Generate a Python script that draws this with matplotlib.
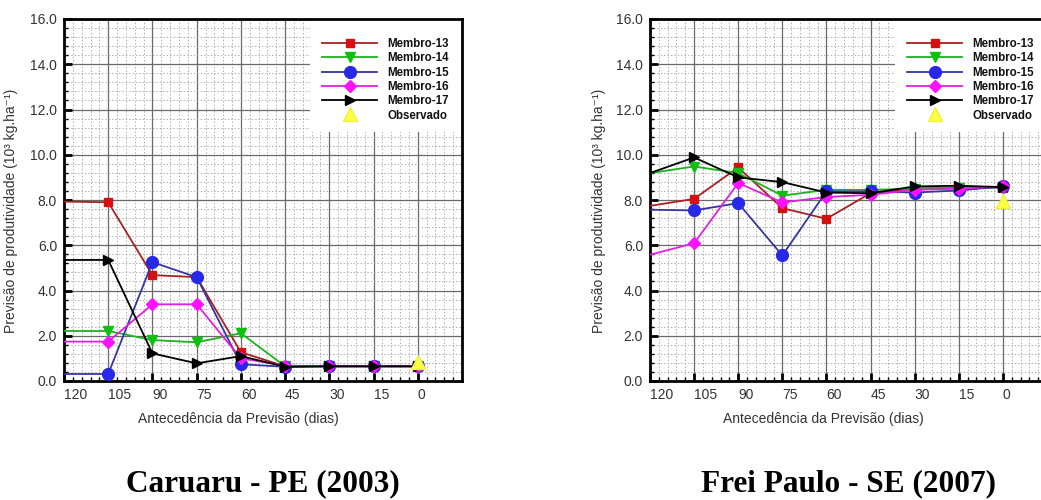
import matplotlib
matplotlib.use("Agg")
import matplotlib.pyplot as plt
from matplotlib.ticker import MultipleLocator, FormatStrFormatter
from matplotlib.patches import Rectangle

plt.rcParams['font.family'] = ['Liberation Sans', 'DejaVu Sans']

dias = [120, 105, 90, 75, 60, 45, 30, 15, 0]
x_ticks = [120, 105, 90, 75, 60, 45, 30, 15, 0]
series_names = ["Membro-13", "Membro-14", "Membro-15", "Membro-16", "Membro-17"]

# Caruaru - PE (2003)
car_m13 = [7.93, 7.90, 4.68, 4.59, 1.27, 0.65, 0.65, 0.65, 0.65]
car_m14 = [2.21, 2.21, 1.81, 1.71, 2.11, 0.65, 0.65, 0.65, 0.65]
car_m15 = [0.31, 0.31, 5.25, 4.59, 0.74, 0.63, 0.65, 0.65, 0.65]
car_m16 = [1.74, 1.74, 3.39, 3.39, 1.00, 0.68, 0.65, 0.65, 0.65]
car_m17 = [5.35, 5.35, 1.22, 0.78, 1.10, 0.63, 0.65, 0.65, 0.65]
car_obs_x = [0]
car_obs = [0.86]

# Frei Paulo - SE (2007)
fp_m13 = [7.74, 8.05, 9.44, 7.64, 7.17, 8.30, 8.50, 8.55, 8.55]
fp_m14 = [9.19, 9.48, 9.19, 8.19, 8.45, 8.45, 8.50, 8.55, 8.55]
fp_m15 = [7.57, 7.54, 7.86, 5.55, 8.38, 8.38, 8.33, 8.42, 8.60]
fp_m16 = [5.58, 6.09, 8.75, 7.89, 8.13, 8.23, 8.45, 8.50, 8.60]
fp_m17 = [9.19, 9.88, 9.00, 8.79, 8.33, 8.30, 8.60, 8.63, 8.57]
fp_obs_x = [0]
fp_obs = [7.96]

titles = ["Caruaru - PE (2003)", "Frei Paulo - SE (2007)"]

styles = [
    dict(color="#a82020", marker="s", mfc="#d41010", mec="#d41010", ms=5.5),
    dict(color="#20b020", marker="v", mfc="#10c010", mec="#10c010", ms=7),
    dict(color="#3535a0", marker="o", mfc="#2828e8", mec="#2828e8", ms=8.5),
    dict(color="#e020e0", marker="D", mfc="#ff10ff", mec="#ff10ff", ms=6),
    dict(color="black", marker=">", mfc="black", mec="black", ms=7),
]

W, H = 1041, 500
fig = plt.figure(figsize=(W / 100, H / 100), dpi=100)

axes_px = [(64, 19, 398, 362), (650, 19, 397, 362)]
ylabel_x = [18, 606]
datasets = [
    ([car_m13, car_m14, car_m15, car_m16, car_m17], car_obs_x, car_obs),
    ([fp_m13, fp_m14, fp_m15, fp_m16, fp_m17], fp_obs_x, fp_obs),
]

for (x0, y0, w, h), ylx, (members, ox, oy), title in zip(axes_px, ylabel_x, datasets, titles):
    ax = fig.add_axes([x0 / W, (H - y0 - h) / H, w / W, h / H])
    ax.set_xlim(120, -15)
    ax.set_ylim(0, 16)
    ax.xaxis.set_major_locator(MultipleLocator(15))
    ax.xaxis.set_minor_locator(MultipleLocator(3))
    ax.yaxis.set_major_locator(MultipleLocator(2))
    ax.yaxis.set_minor_locator(MultipleLocator(0.4))
    ax.yaxis.set_major_formatter(FormatStrFormatter("%.1f"))
    ax.set_xticks(x_ticks)
    ax.set_xticklabels([str(t) for t in x_ticks])
    for lab in ax.get_xticklabels():
        lab.set_horizontalalignment("left")
    ax.grid(which="minor", color="#b0b0b0", linestyle=(0, (1.5, 2)), linewidth=0.7)
    ax.grid(which="major", color="#6a6a6a", linestyle="-", linewidth=0.9)
    ax.set_axisbelow(True)
    ax.tick_params(which="major", direction="in", length=6, width=2, labelsize=10,
                   labelcolor="#333333", top=False, right=False, pad=5)
    ax.tick_params(which="minor", direction="in", length=3, width=1, top=False, right=False)
    for sp in ax.spines.values():
        sp.set_linewidth(2)
    # white legend background box (measured from the axes' right edge)
    right = x0 + w
    bx0 = 1 - 152 / w
    by0 = 1 - (132 - y0) / h
    ax.add_patch(Rectangle((bx0, by0), 1 - bx0, 1 - by0, transform=ax.transAxes,
                           facecolor="white", edgecolor="none", zorder=2))
    for name, vals, st in zip(series_names, members, styles):
        ax.plot(dias, vals, label=name, lw=1.3, markevery=slice(1, None), zorder=3, **st)
    ax.plot(ox, oy, linestyle="none", marker="^", color="#ffff40", ms=10,
            mec="#f0f040", label="Observado", zorder=4)
    ax.set_ylabel("Previsão de produtividade (10³ kg.ha⁻¹)", fontsize=10,
                  color="#333333")
    ax.yaxis.set_label_coords((ylx - x0) / w, 0.47)
    ax.set_xlabel("Antecedência da Previsão (dias)", fontsize=10, color="#333333")
    ax.xaxis.set_label_coords(0.437, -(412 - y0 - h) / h)
    leg = ax.legend(loc="upper left", bbox_to_anchor=(1 - 140 / w, 1 - (38 - y0) / h),
                    borderaxespad=0, borderpad=0, frameon=False, handlelength=4.8,
                    handletextpad=0.9, labelspacing=0.2,
                    prop=dict(weight="bold", size=8.3))
    leg.set_zorder(5)
    for t in leg.get_texts():
        t.set_color("#111111")
    fig.text((x0 + w / 2) / W, 1 - 484 / H, title, ha="center", va="center",
             fontsize=22.5, fontweight="bold", family="Liberation Serif")

fig.savefig("out.png", dpi=100)
